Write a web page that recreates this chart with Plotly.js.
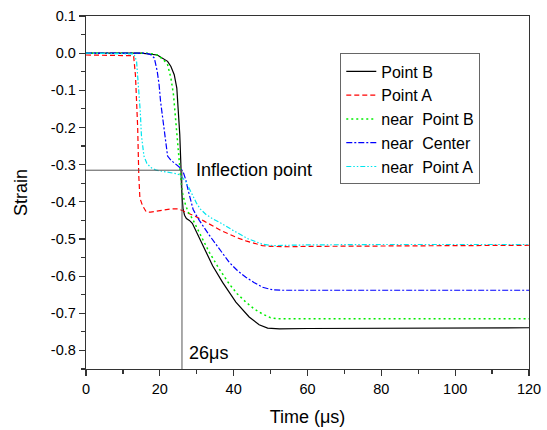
<!DOCTYPE html>
<html>
<head>
<meta charset="utf-8">
<script src="https://cdn.plot.ly/plotly-3.0.1.min.js"></script>
<style>
  html, body { margin: 0; padding: 0; background: #fff; }
  #chart { width: 547px; height: 430px; }
</style>
</head>
<body>
<div id="chart"></div>
<script>
// ---- data ----
const seriesNames = ["Point B", "Point A", "near\u00a0 Point B", "near\u00a0 Center", "near\u00a0 Point A"];

const pointB_x = [0, 15, 19.3, 21, 22.1, 23, 23.9, 24.6, 25, 25.4, 25.7, 25.9, 26.3, 26.7, 27.2, 28, 28.8, 29.8, 31.6, 34.3, 37, 40.6, 44.2, 46.9, 49.2, 51, 52.4, 60, 80, 100, 120];
const pointB_y = [0, 0, -0.005, -0.014, -0.022, -0.036, -0.058, -0.094, -0.157, -0.219, -0.3, -0.37, -0.42, -0.436, -0.445, -0.45, -0.458, -0.478, -0.518, -0.572, -0.617, -0.67, -0.71, -0.731, -0.74, -0.742, -0.742, -0.741, -0.74, -0.739, -0.739];

const pointA_x = [0, 12.9, 13.4, 14.0, 14.3, 14.6, 15.3, 16.3, 17.5, 19, 21, 23, 25, 26.5, 28, 29.8, 32, 34.3, 36.5, 38.8, 41, 43.3, 45.5, 47.8, 50, 52.4, 55, 60, 80, 100, 120];
const pointA_y = [-0.005, -0.007, -0.06, -0.2, -0.33, -0.39, -0.41, -0.427, -0.428, -0.425, -0.421, -0.419, -0.419, -0.425, -0.432, -0.44, -0.452, -0.465, -0.477, -0.487, -0.497, -0.505, -0.512, -0.518, -0.52, -0.521, -0.521, -0.52, -0.519, -0.518, -0.517];

const nearB_x = [0, 17, 19.3, 21, 22.1, 23, 23.7, 24.1, 24.4, 24.8, 25.2, 25.6, 26.1, 27, 27.8, 28.8, 30.7, 33.4, 36.1, 38.8, 41, 43.3, 45.5, 47.8, 50, 52, 60, 80, 100, 120];
const nearB_y = [0, 0, -0.005, -0.018, -0.031, -0.067, -0.112, -0.157, -0.21, -0.25, -0.295, -0.33, -0.375, -0.41, -0.43, -0.445, -0.483, -0.536, -0.581, -0.621, -0.648, -0.67, -0.688, -0.702, -0.712, -0.715, -0.715, -0.715, -0.715, -0.715];

const nearC_x = [0, 16.2, 17.5, 18.5, 19.3, 19.8, 20.2, 20.7, 21.2, 21.7, 22.1, 23, 23.9, 24.8, 25.7, 26.4, 27, 27.7, 28.4, 29, 29.8, 30.7, 33.4, 36.1, 38.8, 41, 43.3, 45.5, 47.8, 50.6, 53, 60, 80, 100, 120];
const nearC_y = [0, 0, -0.004, -0.013, -0.049, -0.085, -0.13, -0.17, -0.21, -0.25, -0.277, -0.288, -0.295, -0.302, -0.31, -0.322, -0.34, -0.37, -0.4, -0.42, -0.435, -0.45, -0.49, -0.527, -0.563, -0.585, -0.603, -0.617, -0.63, -0.637, -0.638, -0.638, -0.638, -0.638, -0.638];

const nearA_x = [0, 13, 13.7, 14.1, 14.7, 15.0, 15.7, 16.5, 17.6, 19, 21, 23, 24.8, 25.7, 27, 28, 29, 30, 31, 32.5, 34.5, 36.5, 40, 44, 47.8, 50.6, 55, 60, 80, 100, 120];
const nearA_y = [0, -0.002, -0.022, -0.067, -0.157, -0.22, -0.277, -0.297, -0.308, -0.315, -0.318, -0.321, -0.325, -0.33, -0.345, -0.365, -0.385, -0.405, -0.42, -0.434, -0.447, -0.457, -0.478, -0.5, -0.514, -0.518, -0.517, -0.516, -0.515, -0.515, -0.515];

const xTickVals = [0, 20, 40, 60, 80, 100, 120];
const xTickText = ["0", "20", "40", "60", "80", "100", "120"];
const xMinorVals = [10, 30, 50, 70, 90, 110];
const yTickVals = [0.1, 0.0, -0.1, -0.2, -0.3, -0.4, -0.5, -0.6, -0.7, -0.8];
const yTickText = ["0.1", "0.0", "-0.1", "-0.2", "-0.3", "-0.4", "-0.5", "-0.6", "-0.7", "-0.8"];
const yMinorVals = [0.05, -0.05, -0.15, -0.25, -0.35, -0.45, -0.55, -0.65, -0.75, -0.85];

const inflectionX = 26;
const inflectionY = -0.315;

// ---- chart ----
const FONT = "Liberation Sans, Arial, Helvetica, sans-serif";

const traces = [
  {x: pointB_x, y: pointB_y, name: seriesNames[0], line: {color: "#000000", width: 1.2, dash: "solid"}},
  {x: pointA_x, y: pointA_y, name: seriesNames[1], line: {color: "#ff0000", width: 1.2, dash: "5px,3px"}},
  {x: nearB_x, y: nearB_y, name: seriesNames[2], line: {color: "#00ee00", width: 1.5, dash: "2px,3px"}},
  {x: nearC_x, y: nearC_y, name: seriesNames[3], line: {color: "#0000ff", width: 1.2, dash: "6px,2px,2px,2px"}},
  {x: nearA_x, y: nearA_y, name: seriesNames[4], line: {color: "#00e5ee", width: 1.2, dash: "5px,2px,1.5px,2px,1.5px,2px"}}
].map(t => Object.assign({type: "scatter", mode: "lines", hoverinfo: "skip"}, t));

const axisCommon = {
  showline: true, linecolor: "#333", linewidth: 1.3, mirror: true,
  ticks: "outside", ticklen: 6, tickwidth: 1.2, tickcolor: "#333",
  showgrid: false, zeroline: false,
  tickfont: {family: FONT, size: 14.5, color: "#000"},
  tickmode: "array"
};

const layout = {
  width: 547, height: 430,
  margin: {l: 86, r: 18, t: 16, b: 61},
  paper_bgcolor: "#fff", plot_bgcolor: "#fff",
  font: {family: FONT, color: "#000"},
  showlegend: true,
  xaxis: Object.assign({}, axisCommon, {
    range: [0, 120], tickvals: xTickVals, ticktext: xTickText,
    minor: {tickmode: "array", tickvals: xMinorVals, ticks: "outside", ticklen: 4, tickcolor: "#333", showgrid: false},
    title: {text: "Time (\u03bcs)", font: {family: FONT, size: 18, color: "#000"}, standoff: 14}
  }),
  yaxis: Object.assign({}, axisCommon, {
    range: [-0.85, 0.1], tickvals: yTickVals, ticktext: yTickText,
    minor: {tickmode: "array", tickvals: yMinorVals, ticks: "outside", ticklen: 4, tickcolor: "#333", showgrid: false},
    title: {text: "Strain", font: {family: FONT, size: 18, color: "#000"}, standoff: 18}
  }),
  legend: {
    x: 0.574, y: 0.894, xanchor: "left", yanchor: "top",
    bgcolor: "#fff", bordercolor: "#666", borderwidth: 1,
    font: {family: FONT, size: 16, color: "#000"},
    itemwidth: 30
  },
  shapes: [
    {type: "line", xref: "x", yref: "y", x0: 0, x1: inflectionX, y0: inflectionY, y1: inflectionY, line: {color: "#555", width: 1}},
    {type: "line", xref: "x", yref: "y", x0: inflectionX, x1: inflectionX, y0: inflectionY, y1: -0.85, line: {color: "#555", width: 1}}
  ],
  annotations: [
    {xref: "x", yref: "y", x: 29.3, y: inflectionY, text: "Inflection point", showarrow: false, xanchor: "left", yanchor: "middle", font: {family: FONT, size: 18, color: "#000"}},
    {xref: "x", yref: "y", x: 27.3, y: -0.806, text: inflectionX + "\u03bcs", showarrow: false, xanchor: "left", yanchor: "middle", font: {family: FONT, size: 18, color: "#000"}}
  ]
};

Plotly.newPlot("chart", traces, layout, {staticPlot: true, displayModeBar: false});
</script>
</body>
</html>
